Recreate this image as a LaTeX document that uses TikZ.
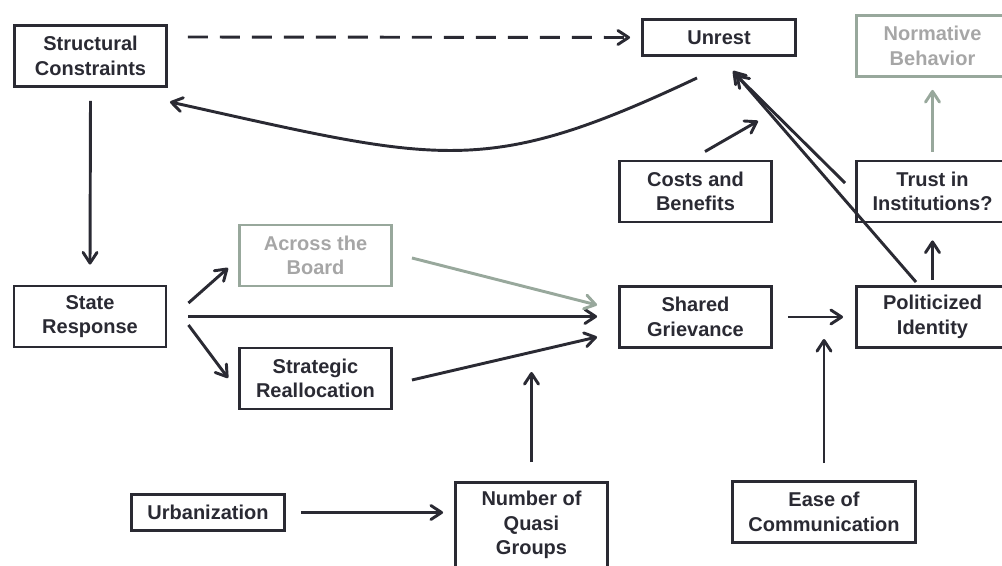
\documentclass[tikz,border=0pt]{standalone}
\usepackage{fontspec}
\setmainfont{Liberation Sans}
\usetikzlibrary{arrows.meta}
\definecolor{ink}{HTML}{2A2A33}
\definecolor{sage}{HTML}{98A89C}
\definecolor{fade}{HTML}{A6A6A6}
\begin{document}
\begin{tikzpicture}[x=0.75pt, y=-0.75pt,
    box/.style={draw=ink, line width=2.2pt, text=ink, align=center,
        font=\bfseries\fontsize{15}{18.5}\selectfont,
        minimum width=114pt, minimum height=45.75pt, inner sep=0pt},
    faded/.style={box, draw=sage, text=fade},
    slim/.style={minimum height=27pt},
    link/.style={draw=ink, line width=2.2pt,
        -{Straight Barb[length=8pt, width=10.5pt, round]}},
    paler/.style={link, draw=sage}]
    % Frame (boxes on the right and bottom run off the page)
    \path[use as bounding box, clip] (0,0) rectangle (1002,566);

    % Top row
    \node[box] (struct) at (90.5,56) {Structural\\Constraints};
    \node[box, slim, minimum width=114.75pt] (unrest) at (719,37.5) {Unrest};
    \node[faded] (norm) at (932.5,46) {Normative\\Behavior};

    % Middle rows
    \node[box] (costs) at (695.5,191.5) {Costs and\\Benefits};
    \node[box] (trust) at (932.5,191.5) {Trust in\\Institutions?};
    \node[faded] (across) at (315.5,255.5) {Across the\\Board};
    \node[box] (state) at (90,316.5) {State\\Response};
    \node[box] (realloc) at (315.5,378.5) {Strategic\\Reallocation};
    \node[box] (grievance) at (695.5,317) {Shared\\Grievance};
    \node[box] (identity) at (932.5,317) {Politicized\\Identity};

    % Bottom row
    \node[box, slim, minimum width=114.75pt] (urban) at (208,512.5) {Urbanization};
    \node[box, minimum height=63.75pt] (quasi) at (531.5,525) {Number of\\Quasi\\Groups};
    \node[box, minimum width=137.25pt] (ease) at (824,512) {Ease of\\Communication};

    % Free ends of the arrows that point at other arrows
    \coordinate (quasihit) at (531.5,372);
    \coordinate (easehit) at (824,339);
    \coordinate (costshit) at (758,121);

    % Arrows
    \draw[link, dashed, dash pattern=on 15pt off 9pt]
        ([shift={(20,-19)}]struct.east) -- ([shift={(-11,0)}]unrest.west);
    \draw[link] ([shift={(-22,21)}]unrest.south)
        .. controls (483,179) and (441,162) .. ([shift={(2,14)}]struct.south east);
    \draw[link] ([shift={(0,13)}]struct.south) -- ([shift={(0,-20)}]state.north);
    \draw[link] ([shift={(21,-13.5)}]state.east) -- ([shift={(-10,12.5)}]across.west);
    \draw[link] ([shift={(21,0)}]state.east) -- ([shift={(-21,-0.5)}]grievance.west);
    \draw[link] ([shift={(21,8.5)}]state.east) -- ([shift={(-10,-0.5)}]realloc.west);
    \draw[paler] ([shift={(19,2.5)}]across.east) -- ([shift={(-21,-12)}]grievance.west);
    \draw[link] ([shift={(19,1.5)}]realloc.east) -- ([shift={(-21,20)}]grievance.west);
    \draw[link] ([shift={(0,-19)}]quasi.north) -- (quasihit);
    \draw[link] ([shift={(15,0)}]grievance.east) -- ([shift={(-12,0)}]identity.west);
    \draw[link] ([shift={(0,-17)}]ease.north) -- (easehit);
    \draw[link] ([shift={(0,-5)}]identity.north) -- ([shift={(0,17)}]trust.south);
    \draw[paler] ([shift={(0,-8)}]trust.north) -- ([shift={(0,12)}]norm.south);
    \draw[link] ([shift={(-10,-8.5)}]trust.west) -- ([shift={(17,18)}]unrest.south);
    \draw[link] ([shift={(-16.5,-3)}]identity.north) -- ([shift={(14,14)}]unrest.south);
    \draw[link] ([shift={(9.5,-8)}]costs.north) -- (costshit);
    \draw[link] (urban.east) ++(15,0) -- ([shift={(-11,0)}]quasi.west |- urban.east);
\end{tikzpicture}
\end{document}
